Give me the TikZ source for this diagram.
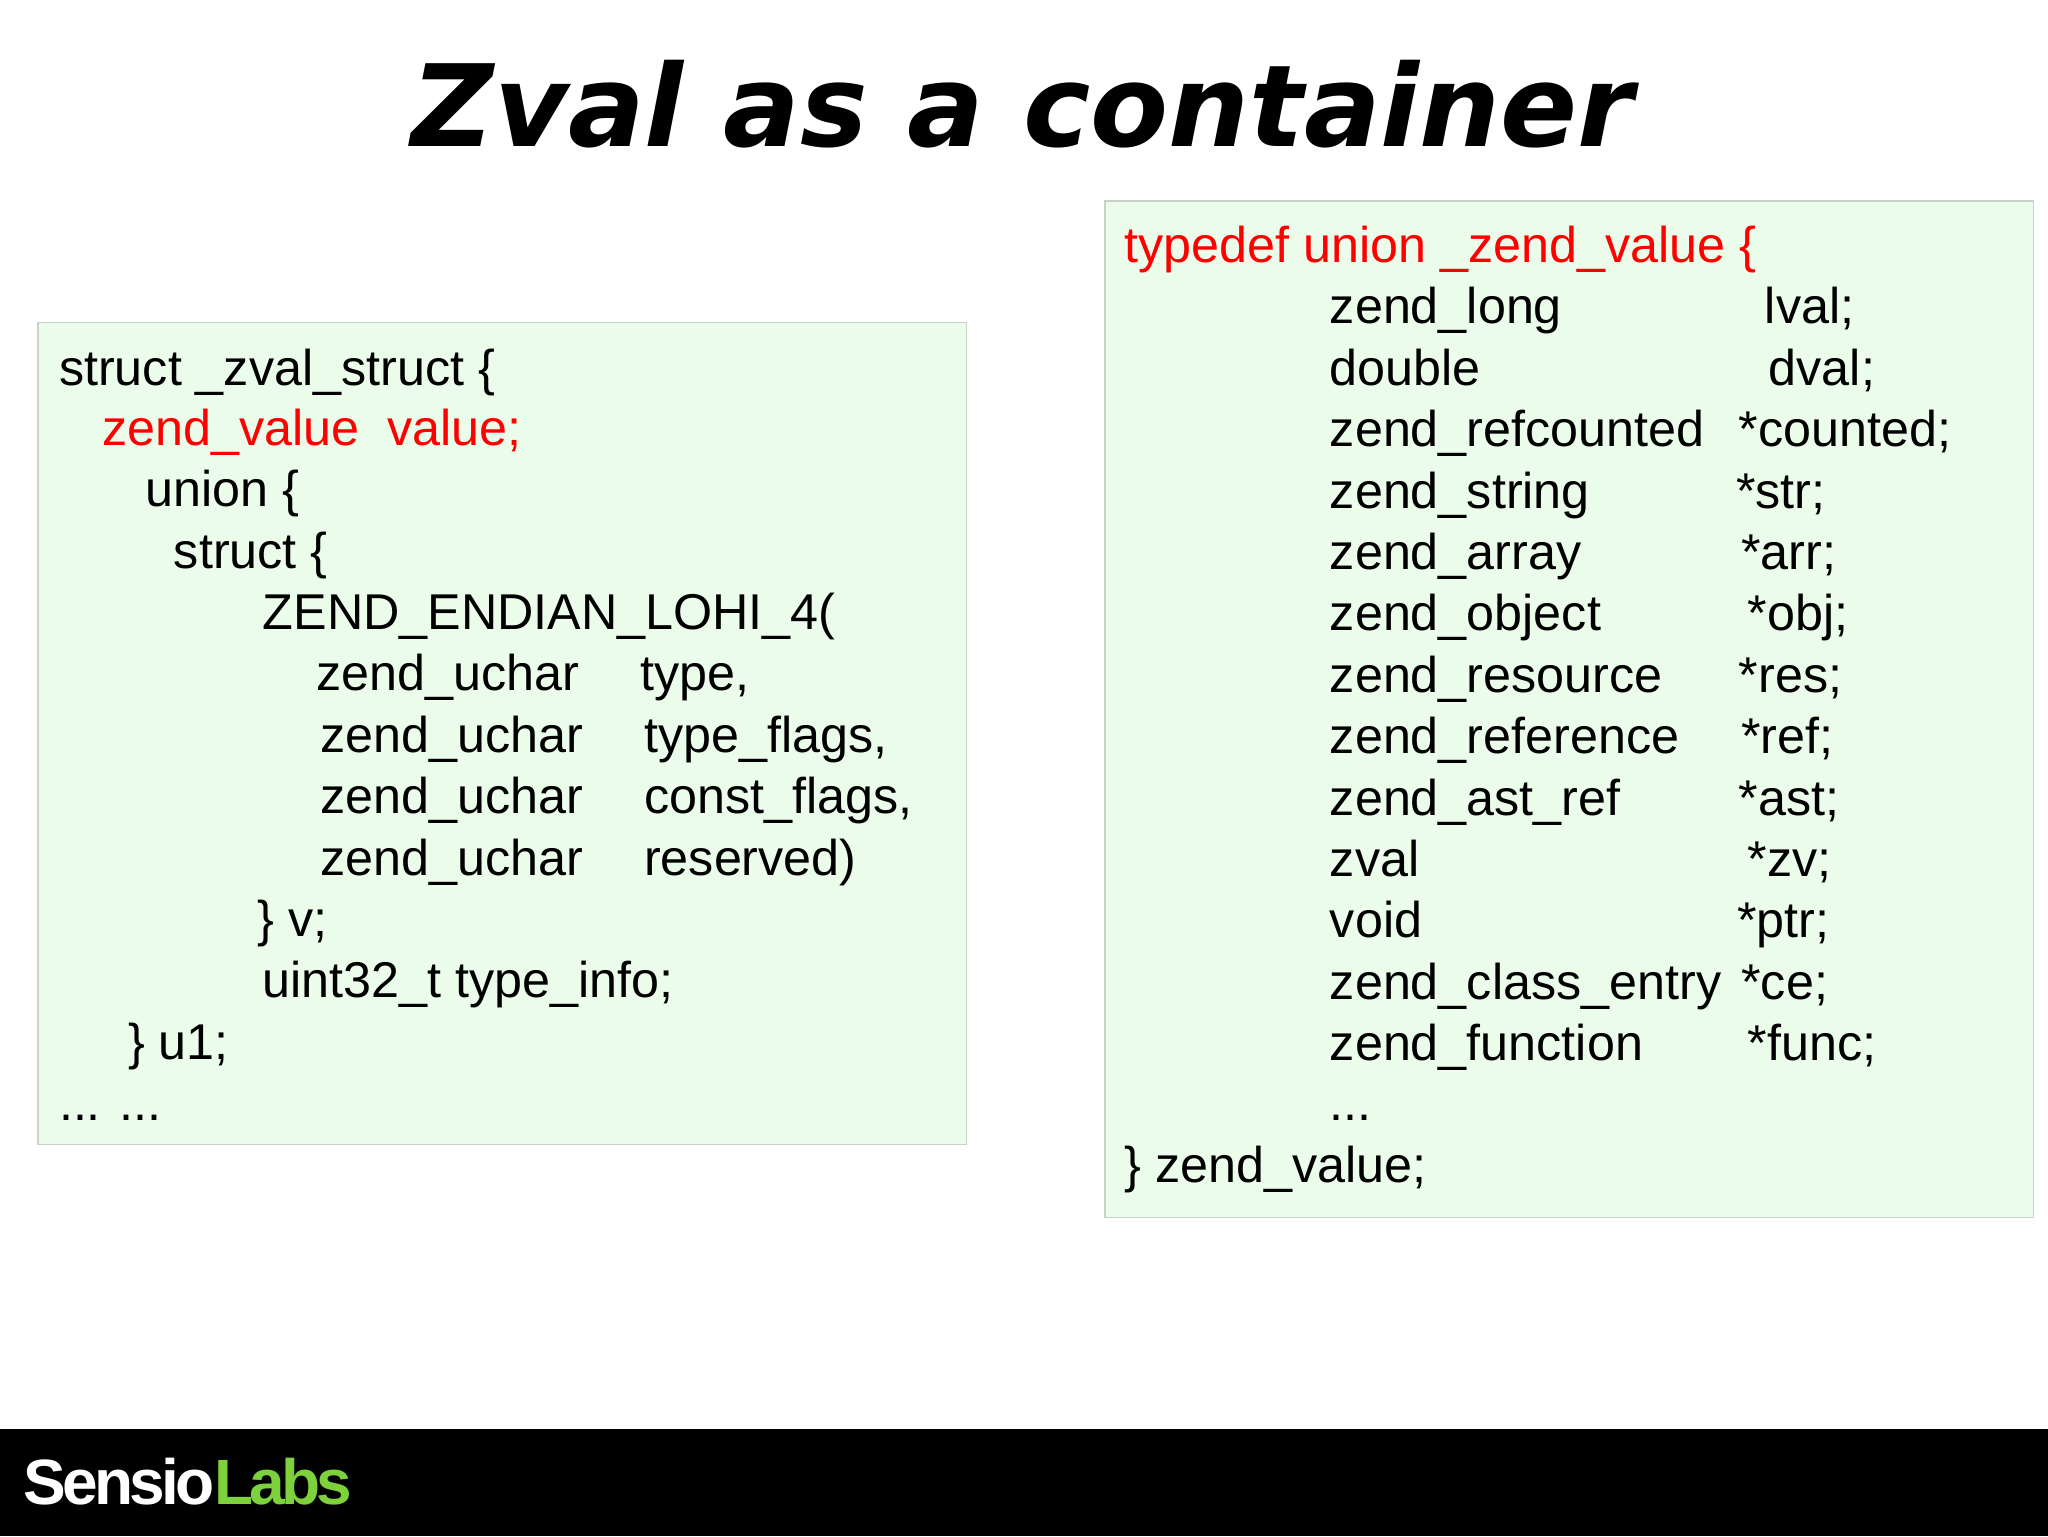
\documentclass[tikz,border=0pt]{standalone}
\usepackage{fontspec}
\setmainfont{Liberation Sans}
\newfontfamily\titlefont{DejaVu Sans}
\definecolor{boxgreen}{HTML}{EBFCEB}
\definecolor{boxline}{HTML}{C8D2C8}
\definecolor{codered}{HTML}{FF0000}
\definecolor{labsgreen}{HTML}{7DD13A}
\begin{document}
\begin{tikzpicture}[x=1pt,y=-1pt,
  code/.style={anchor=base west,inner sep=0pt,font=\fontsize{38.5}{42}\selectfont},
  redcode/.style={code,text=codered},
  panel/.style={fill=boxgreen,draw=boxline,line width=1pt}]
\useasboundingbox (0,0) rectangle (1568,1176);
\fill[white] (0,0) rectangle (1568,1176);
\node[anchor=base,inner sep=0pt,font=\titlefont\bfseries\itshape\fontsize{87}{96}\selectfont] (title) at (783,112) {Zval as a container};
\draw[panel] (29,247) rectangle (740,876);
\draw[panel] (846,154) rectangle (1557,932);
% left
\node[code] (l1) at (45,295) {struct \_zval\_struct \{};
\node[redcode] (l2) at (78,341) {zend\_value\ \ value;};
\node[code] (l3) at (111,388) {union \{};
\node[code] (l4) at (133,435) {struct \{};
\node[code] (l5) at (201,482) {ZEND\_ENDIAN\_LOHI\_4(};
\node[code] (l6a) at (242,529) {zend\_uchar}; \node[code] (l6b) at (490,529) {type,};
\node[code] (l7a) at (245,576) {zend\_uchar}; \node[code] (l7b) at (493,576) {type\_flags,};
\node[code] (l8a) at (245,623) {zend\_uchar}; \node[code] (l8b) at (493,623) {const\_flags,};
\node[code] (l9a) at (245,670) {zend\_uchar}; \node[code] (l9b) at (493,670) {reserved)};
\node[code] (l10) at (197,717) {\} v;};
\node[code] (l11) at (201,764) {uint32\_t type\_info;};
\node[code] (l12) at (98,811) {\} u1;};
\node[code] (l13) at (45,858) {... ...};
% right
\node[redcode] (r0) at (861,201) {typedef union \_zend\_value \{};
\foreach \i/\a/\b/\bx in {0/zend\_long/lval;/1351, 1/double/dval;/1354, 2/zend\_refcounted/*counted;/1331,
  3/zend\_string/*str;/1329, 4/zend\_array/*arr;/1333, 5/zend\_object/*obj;/1338, 6/zend\_resource/*res;/1331,
  7/zend\_reference/*ref;/1333, 8/zend\_ast\_ref/*ast;/1331, 9/zval/*zv;/1338, 10/void/*ptr;/1330,
  11/zend\_class\_entry/*ce;/1333, 12/zend\_function/*func;/1338}{
  \node[code] (ra\i) at (1018,248+47*\i) {\a};
  \node[code] (rb\i) at (\bx,248+47*\i) {\b};
}
\node[code] (rdots) at (1018,858) {...};
\node[code] (rend) at (861,905) {\} zend\_value;};
% footer
\fill[black] (0,1094) rectangle (1568,1176);
\node[anchor=base west,inner sep=0pt,font=\bfseries\fontsize{49}{52}\selectfont] (logo) at (18,1152) {\addfontfeature{LetterSpace=-6}\textcolor{white}{Sensio}\textcolor{labsgreen}{Labs}};
\end{tikzpicture}
\end{document}
